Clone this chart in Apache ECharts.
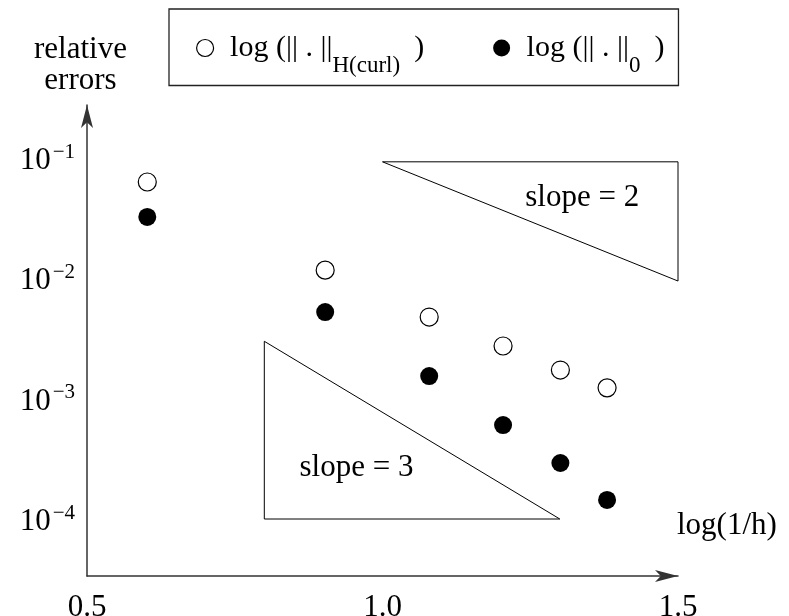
<!DOCTYPE html>
<html>
<head>
<meta charset="utf-8">
<script src="https://cdn.jsdelivr.net/npm/echarts@6/dist/echarts.min.js"></script>
<style>
html,body{margin:0;padding:0;background:#fff;}
#chart{width:789px;height:616px;}
</style>
</head>
<body>
<div id="chart"></div>
<script>
// ---- data ----
const xValues = [0.602, 0.903, 1.079, 1.204, 1.301, 1.380];           // log(1/h)
const hcurlErrors = [0.0632, 0.0117, 0.00477, 0.00274, 0.00173, 0.00123];
const l2Errors = [0.0324, 0.00525, 0.00154, 0.000604, 0.000292, 0.000144];
const xTickValues = [0.5, 1.0, 1.5];
const slope2Triangle = [[1.0, 0.093], [1.5, 0.093], [1.5, 0.0095], [1.0, 0.093]];
const slope3Triangle = [[0.8, 0.0030], [0.8, 0.0001], [1.3, 0.0001], [0.8, 0.0030]];
const slope2Label = [1.338, 0.0468];
const slope3Label = [0.956, 0.000268];
const xRange = [0.5, 1.5];
const yRange = [3.36e-5, 0.2759];

const FONT = '"Liberation Serif", "Times New Roman", serif';

function pairs(xs, ys) { return xs.map((x, i) => [x, ys[i]]); }

const chart = echarts.init(document.getElementById('chart'), null, {renderer: 'canvas'});
const axisColor = '#333';

chart.setOption({
  animation: false,
  backgroundColor: '#fff',
  grid: {left: 87, right: 111, top: 105, bottom: 40, containLabel: false, outerBoundsMode: 'none'},
  legend: {
    left: 169, top: 9,
    orient: 'horizontal',
    padding: [24, 14, 8, 27],
    itemGap: 69,
    itemWidth: 40, itemHeight: 17,
    borderColor: '#222', borderWidth: 1.3,
    selectedMode: false,
    data: [
      {name: 'Hcurl', icon: 'circle', itemStyle: {color: '#fff', borderColor: '#000', borderWidth: 1.2}},
      {name: 'L2', icon: 'circle', itemStyle: {color: '#000', borderColor: '#000', borderWidth: 0}}
    ],
    formatter: function (name) {
      return name === 'Hcurl'
        ? '{m|log (|| . ||}{s|H(curl)}{p|)}'
        : '{m|log (|| . ||}{s|0}{p|)}';
    },
    textStyle: {
      color: '#000', fontFamily: FONT, fontSize: 30,
      rich: {
        m: {fontSize: 30, fontFamily: FONT, color: '#000'},
        p: {fontSize: 30, fontFamily: FONT, color: '#000', padding: [0, 0, 0, 14]},
        s: {fontSize: 23, fontFamily: FONT, color: '#000', padding: [36, 0, 0, 0]}
      }
    }
  },
  xAxis: {
    type: 'value',
    min: xRange[0], max: xRange[1],
    name: 'log(1/h)',
    nameLocation: 'end',
    nameGap: -1,
    nameTextStyle: {color: '#000', fontFamily: FONT, fontSize: 31, lineHeight: 31,
      align: 'left', verticalAlign: 'bottom', padding: [0, 0, 35, 0]},
    axisLine: {show: true, lineStyle: {color: axisColor, width: 1.5},
      symbol: ['none', 'arrow'], symbolSize: [9, 23], symbolOffset: [0, 0]},
    axisTick: {show: false},
    splitLine: {show: false},
    axisLabel: {
      customValues: xTickValues,
      margin: 16,
      color: '#000', fontFamily: FONT, fontSize: 31,
      formatter: v => v.toFixed(1)
    }
  },
  yAxis: {
    type: 'log',
    logBase: 10,
    min: yRange[0], max: yRange[1],
    name: 'relative\nerrors',
    nameLocation: 'end',
    nameGap: 9,
    nameTextStyle: {color: '#000', fontFamily: FONT, fontSize: 31, lineHeight: 31,
      align: 'center', verticalAlign: 'bottom', padding: [0, 13, 0, 0]},
    axisLine: {show: true, lineStyle: {color: axisColor, width: 1.5},
      symbol: ['none', 'arrow'], symbolSize: [9, 23], symbolOffset: [0, 0]},
    axisTick: {show: false},
    splitLine: {show: false},
    minorTick: {show: false},
    axisLabel: {
      margin: 12,
      showMinLabel: false, showMaxLabel: false,
      formatter: function (v) {
        const l = Math.log10(v);
        const e = Math.round(l);
        if (Math.abs(l - e) > 0.01) return '';
        return '{m|10}{s|\u2212' + Math.abs(e) + '}';
      },
      rich: {
        m: {fontSize: 31, fontFamily: FONT, color: '#000', padding: [6, 0, 0, 0]},
        s: {fontSize: 21, fontFamily: FONT, color: '#000', padding: [0, 0, 12, 2]}
      }
    }
  },
  series: [
    {
      name: 'slope2', type: 'line', data: slope2Triangle, symbol: 'none', silent: true,
      lineStyle: {color: '#000', width: 1}, z: 1,
      markPoint: {
        symbol: 'circle', symbolSize: 0, silent: true,
        label: {show: true, position: 'inside', color: '#000', fontFamily: FONT, fontSize: 31,
          formatter: 'slope = 2'},
        data: [{coord: slope2Label}]
      }
    },
    {
      name: 'slope3', type: 'line', data: slope3Triangle, symbol: 'none', silent: true,
      lineStyle: {color: '#000', width: 1}, z: 1,
      markPoint: {
        symbol: 'circle', symbolSize: 0, silent: true,
        label: {show: true, position: 'inside', color: '#000', fontFamily: FONT, fontSize: 31,
          formatter: 'slope = 3'},
        data: [{coord: slope3Label}]
      }
    },
    {
      name: 'Hcurl', type: 'scatter', data: pairs(xValues, hcurlErrors),
      symbol: 'circle', symbolSize: 18,
      itemStyle: {color: '#fff', borderColor: '#000', borderWidth: 1.2, opacity: 1}, z: 3
    },
    {
      name: 'L2', type: 'scatter', data: pairs(xValues, l2Errors),
      symbol: 'circle', symbolSize: 18,
      itemStyle: {color: '#000', opacity: 1}, z: 3
    }
  ]
});
</script>
</body>
</html>
